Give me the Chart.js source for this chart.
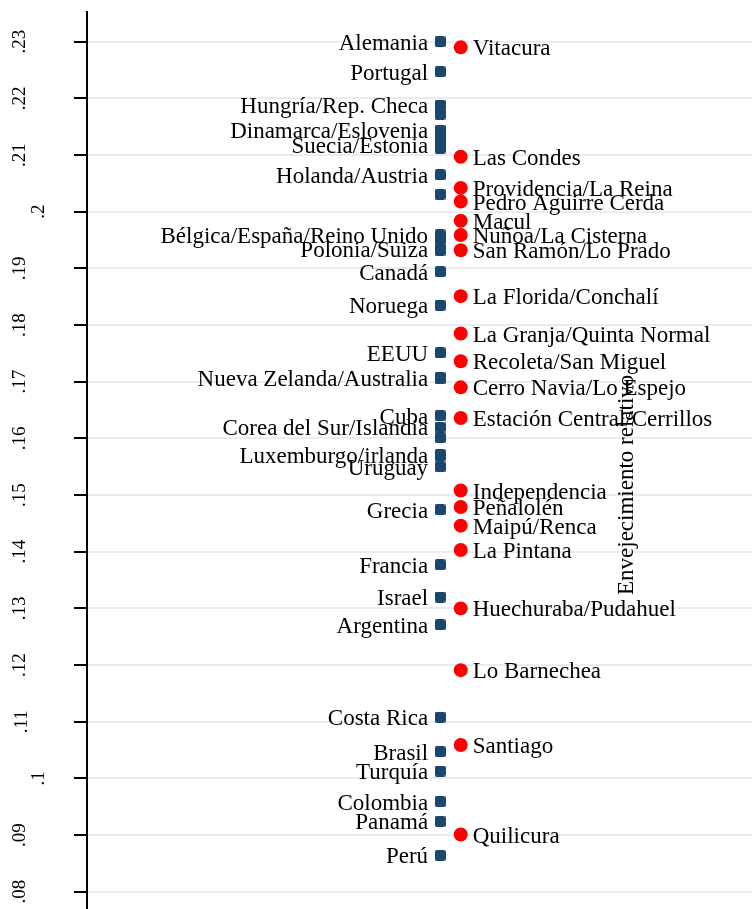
<!DOCTYPE html>
<html>
<head>
<meta charset="utf-8">
<script src="https://cdn.jsdelivr.net/npm/chart.js@4.4.0/dist/chart.umd.min.js"></script>
<style>
  html, body { margin: 0; padding: 0; background: #fff; }
  #wrap { width: 752px; height: 909px; }
</style>
</head>
<body>
<div id="wrap"><canvas id="myChart" width="752" height="909"></canvas></div>
<script>
// paises (cuadrados azules) - etiqueta vacia = punto sin etiqueta
const paises = ['Alemania', 'Portugal', 'Hungría/Rep. Checa', '', 'Dinamarca/Eslovenia', '',
  'Suecia/Estonia', '', 'Holanda/Austria', '', 'Bélgica/España/Reino Unido', '', '',
  'Polonia/Suiza', '', 'Canadá', 'Noruega', 'EEUU', 'Nueva Zelanda/Australia', '',
  'Cuba', 'Corea del Sur/Islandia', '', 'Luxemburgo/irlanda', '', 'Uruguay', 'Grecia',
  'Francia', 'Israel', 'Argentina', 'Costa Rica', 'Brasil', 'Turquía', 'Colombia',
  'Panamá', 'Perú']
const envPaises = [.2300, .2247, .2188, .2172, .2144, .2130,
  .2118, .2112, .2065, .2031, .1959, .1955, .1951,
  .1934, .1932, .1894, .1835, .1751, .1707, .1705,
  .1640, .1620, .1601, .1571, .1569, .1550, .1474,
  .1377, .1320, .1271, .1108, .1047, .1013, .0959,
  .0924, .0864]

// comunas (circulos rojos)
const comunas = ['Vitacura', 'Las Condes', 'Providencia/La Reina', 'Pedro Aguirre Cerda', 'Macul',
  'Nuñoa/La Cisterna', 'San Ramón/Lo Prado', 'La Florida/Conchalí', 'La Granja/Quinta Normal',
  'Recoleta/San Miguel', 'Cerro Navia/Lo Espejo', 'Estación Central/Cerrillos', 'Independencia',
  'Peñalolén', 'Maipú/Renca', 'La Pintana', 'Huechuraba/Pudahuel', 'Lo Barnechea', 'Santiago',
  'Quilicura']
const envComunas = [.2290, .2097, .2042, .2018, .1984,
  .1959, .1932, .1851, .1785,
  .1736, .1690, .1636, .1508,
  .1479, .1446, .1403, .1300, .1191, .1059,
  .0901]

const yTicks = [.08, .09, .10, .11, .12, .13, .14, .15, .16, .17, .18, .19, .20, .21, .22, .23]
const yTickLabels = ['.08', '.09', '.1', '.11', '.12', '.13', '.14', '.15', '.16', '.17', '.18', '.19', '.2', '.21', '.22', '.23']

const X_PAISES = 53.1
const X_COMUNAS = 56.2
const tituloY = 'Envejecimiento relativo'

const FUENTE = '"Liberation Serif", "Times New Roman", serif'

function cuadrado(lado, color) {
  const c = document.createElement('canvas')
  c.width = lado
  c.height = lado
  const g = c.getContext('2d')
  g.fillStyle = color
  g.beginPath()
  g.roundRect(0, 0, lado, lado, 2)
  g.fill()
  return c
}

// etiquetas de los puntos y titulo
const etiquetas = {
  id: 'etiquetas',
  afterDatasetsDraw(chart) {
    const ctx = chart.ctx
    ctx.save()
    ctx.fillStyle = '#000'
    ctx.font = '23px ' + FUENTE
    ctx.textBaseline = 'middle'

    ctx.textAlign = 'right'
    chart.getDatasetMeta(0).data.forEach((pt, i) => {
      if (paises[i]) ctx.fillText(paises[i], pt.x - 12, pt.y + 2)
    })
    ctx.textAlign = 'left'
    chart.getDatasetMeta(1).data.forEach((pt, i) => {
      ctx.fillText(comunas[i], pt.x + 12, pt.y + 2)
    })

    // titulo vertical
    const tx = chart.scales.x.getPixelForValue(81.2)
    const ty = chart.scales.y.getPixelForValue(.1518)
    ctx.translate(tx, ty)
    ctx.rotate(-Math.PI / 2)
    ctx.textAlign = 'center'
    ctx.fillText(tituloY, 0, 0)
    ctx.restore()
  },
  afterDraw(chart) {
    // etiquetas del eje y, rotadas
    const ctx = chart.ctx
    const y = chart.scales.y
    ctx.save()
    ctx.fillStyle = '#000'
    ctx.font = '19px ' + FUENTE
    ctx.textAlign = 'center'
    ctx.textBaseline = 'middle'
    y.ticks.forEach((t, i) => {
      const py = y.getPixelForValue(t.value)
      const w = ctx.measureText(yTickLabels[i]).width
      const px = 68 - 2 * w
      ctx.save()
      ctx.translate(px, py)
      ctx.rotate(-Math.PI / 2)
      ctx.fillText(yTickLabels[i], 0, 0)
      ctx.restore()
    })
    ctx.restore()
  }
}

const ctx = document.getElementById('myChart')
new Chart(ctx, {
  type: 'scatter',
  data: {
    datasets: [{
      label: 'Países',
      data: envPaises.map(v => ({x: X_PAISES, y: v})),
      pointStyle: cuadrado(11, '#1a476f'),
      pointRadius: 6
    }, {
      label: 'Comunas',
      data: envComunas.map(v => ({x: X_COMUNAS, y: v})),
      pointStyle: 'circle',
      pointRadius: 7,
      backgroundColor: '#ff0000',
      borderColor: '#ff0000',
      borderWidth: 0
    }]
  },
  options: {
    responsive: false,
    animation: false,
    events: [],
    layout: { autoPadding: false, padding: { top: 12, left: 0, right: 0, bottom: 0 } },
    plugins: {
      legend: { display: false },
      tooltip: { enabled: false }
    },
    scales: {
      x: {
        type: 'linear',
        display: false,
        min: 0,
        max: 100
      },
      y: {
        type: 'linear',
        min: .07695,
        max: .23524,
        afterBuildTicks: s => { s.ticks = yTicks.map(v => ({value: v})) },
        afterFit: s => { s.width = 87 },
        ticks: { display: false },
        grid: {
          color: '#e6eef1',
          lineWidth: 2,
          drawTicks: true,
          tickLength: 13,
          tickColor: '#000',
          tickWidth: 2
        },
        border: { color: '#000', width: 2 }
      }
    }
  },
  plugins: [etiquetas]
})
</script>
</body>
</html>
